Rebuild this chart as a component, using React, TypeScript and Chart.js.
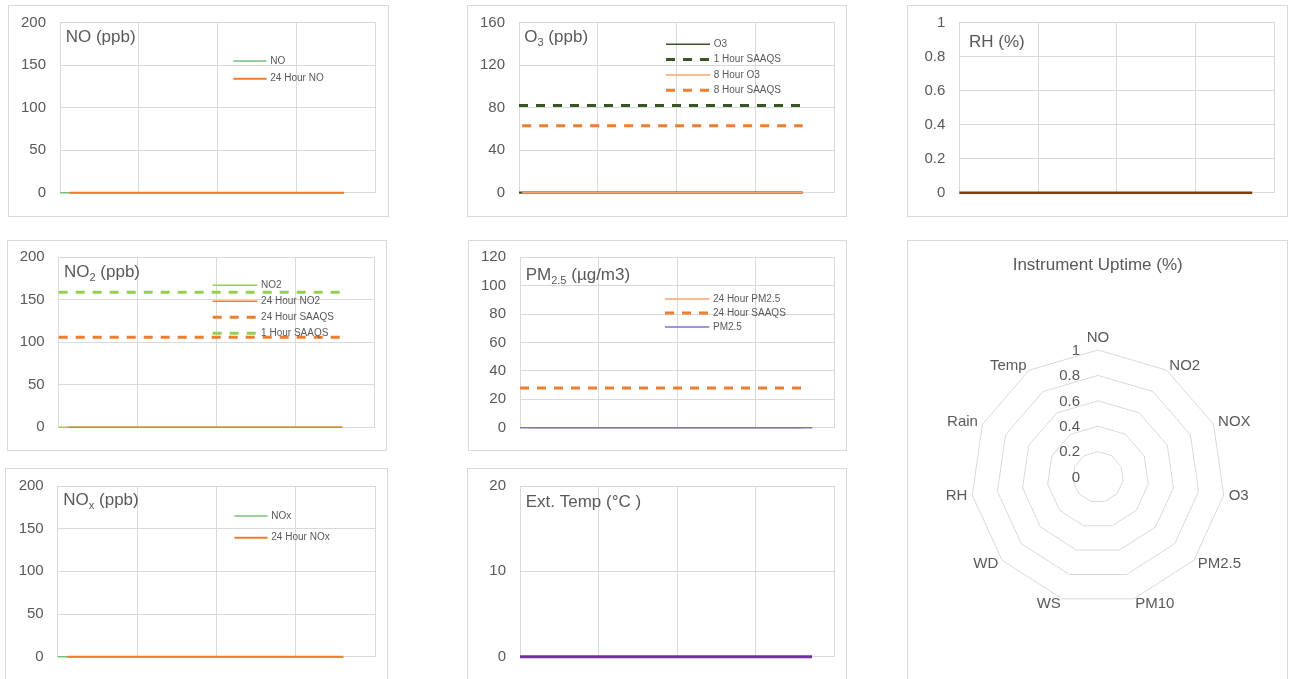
import React, { useEffect, useRef } from 'react';
import { Chart, registerables } from 'chart.js';

Chart.register(...registerables);

const FONT = '"Liberation Sans", Arial, sans-serif';
const TEXT = '#595959';
const GRID = '#d9d9d9';
Chart.defaults.font.family = FONT;

// ---------- DATA ----------
// time stamps in hours since the start of the month
const DAY_STAMPS = [
  0, 24, 48, 72, 96, 120, 144, 168,
  192, 216, 240, 264, 288, 312, 336, 360,
  384, 408, 432, 456, 480, 504, 528, 552,
  576, 600, 624, 648, 672, 696, 720, 744,
];
const EIGHT_HOUR_STAMPS = [
  8, 24, 48, 72, 96, 120, 144, 168,
  192, 216, 240, 264, 288, 312, 336, 360,
  384, 408, 432, 456, 480, 504, 528, 552,
  576, 600, 624, 648, 672, 696, 720,
];
const X_AXIS_MAX = 800;
const X_GRID_STEP = 200;

const NO_1H = [
  0, 0, 0, 0, 0, 0, 0, 0, 0, 0, 0, 0, 0, 0, 0, 0,
  0, 0, 0, 0, 0, 0, 0, 0, 0, 0, 0, 0, 0, 0, 0, null,
];
const NO_24H = [
  null, 0, 0, 0, 0, 0, 0, 0, 0, 0, 0, 0, 0, 0, 0, 0,
  0, 0, 0, 0, 0, 0, 0, 0, 0, 0, 0, 0, 0, 0, 0, null,
];
const NO2_1H = [
  0, 0, 0, 0, 0, 0, 0, 0, 0, 0, 0, 0, 0, 0, 0, 0,
  0, 0, 0, 0, 0, 0, 0, 0, 0, 0, 0, 0, 0, 0, 0, null,
];
const NO2_24H = [
  null, 0, 0, 0, 0, 0, 0, 0, 0, 0, 0, 0, 0, 0, 0, 0,
  0, 0, 0, 0, 0, 0, 0, 0, 0, 0, 0, 0, 0, 0, 0, null,
];
const NO2_24H_SAAQS = [
  106, 106, 106, 106, 106, 106, 106, 106, 106, 106, 106, 106, 106, 106, 106, 106,
  106, 106, 106, 106, 106, 106, 106, 106, 106, 106, 106, 106, 106, 106, 106, null,
];
const NO2_1H_SAAQS = [
  159, 159, 159, 159, 159, 159, 159, 159, 159, 159, 159, 159, 159, 159, 159, 159,
  159, 159, 159, 159, 159, 159, 159, 159, 159, 159, 159, 159, 159, 159, 159, null,
];
const NOX_1H = [
  0, 0, 0, 0, 0, 0, 0, 0, 0, 0, 0, 0, 0, 0, 0, 0,
  0, 0, 0, 0, 0, 0, 0, 0, 0, 0, 0, 0, 0, 0, 0, null,
];
const NOX_24H = [
  null, 0, 0, 0, 0, 0, 0, 0, 0, 0, 0, 0, 0, 0, 0, 0,
  0, 0, 0, 0, 0, 0, 0, 0, 0, 0, 0, 0, 0, 0, 0, null,
];
const O3_1H = [
  0, 0, 0, 0, 0, 0, 0, 0, 0, 0, 0, 0, 0, 0, 0, 0,
  0, 0, 0, 0, 0, 0, 0, 0, 0, 0, 0, 0, 0, 0, 0, null,
];
const O3_1H_SAAQS = [
  82, 82, 82, 82, 82, 82, 82, 82, 82, 82, 82, 82, 82, 82, 82, 82,
  82, 82, 82, 82, 82, 82, 82, 82, 82, 82, 82, 82, 82, 82, 82, null,
];
const O3_8H = [
  0, 0, 0, 0, 0, 0, 0, 0, 0, 0, 0, 0, 0, 0, 0, 0,
  0, 0, 0, 0, 0, 0, 0, 0, 0, 0, 0, 0, 0, 0, 0,
];
const O3_8H_SAAQS = [
  63, 63, 63, 63, 63, 63, 63, 63, 63, 63, 63, 63, 63, 63, 63, 63,
  63, 63, 63, 63, 63, 63, 63, 63, 63, 63, 63, 63, 63, 63, 63,
];
const PM25_24H = [
  null, 0, 0, 0, 0, 0, 0, 0, 0, 0, 0, 0, 0, 0, 0, 0,
  0, 0, 0, 0, 0, 0, 0, 0, 0, 0, 0, 0, 0, 0, 0, null,
];
const PM25_24H_SAAQS = [
  28, 28, 28, 28, 28, 28, 28, 28, 28, 28, 28, 28, 28, 28, 28, 28,
  28, 28, 28, 28, 28, 28, 28, 28, 28, 28, 28, 28, 28, 28, 28, null,
];
const PM25_1H = [
  0, 0, 0, 0, 0, 0, 0, 0, 0, 0, 0, 0, 0, 0, 0, 0,
  0, 0, 0, 0, 0, 0, 0, 0, 0, 0, 0, 0, 0, 0, 0, 0,
];
const RH_1H = [
  0, 0, 0, 0, 0, 0, 0, 0, 0, 0, 0, 0, 0, 0, 0, 0,
  0, 0, 0, 0, 0, 0, 0, 0, 0, 0, 0, 0, 0, 0, 0, 0,
];
const TEMP_1H = [
  0, 0, 0, 0, 0, 0, 0, 0, 0, 0, 0, 0, 0, 0, 0, 0,
  0, 0, 0, 0, 0, 0, 0, 0, 0, 0, 0, 0, 0, 0, 0, 0,
];

const UPTIME_PARAMS = ['NO', 'NO2', 'NOX', 'O3', 'PM2.5', 'PM10', 'WS', 'WD', 'RH', 'Rain', 'Temp'];
const UPTIME = [0, 0, 0, 0, 0, 0, 0, 0, 0, 0, 0];
const UPTIME_TITLE = 'Instrument Uptime (%)';

// ---------- STYLE / LAYOUT ----------
type Series = {
  label: string;
  stamps: number[];
  values: (number | null)[];
  color: string;
  width: number;
  legendWidth?: number;
  dash?: number[];
};
type TitlePart = { text: string; sub?: boolean };
type LinePanel = {
  box: { x: number; y: number; w: number; h: number };
  plot: { l: number; t: number; r: number; b: number };
  yMax: number;
  yStep: number;
  title: { parts: TitlePart[]; x: number; y: number };
  legend?: { x: number; y: number; dy: number; len: number };
  series: Series[];
};

const C_ORANGE = '#ed7d31';
const C_LORANGE = '#f4a46c';
const C_GREEN = '#75c274';
const C_LGREEN = '#92d050';
const C_DGREEN = '#375623';
const C_PURPLE_L = '#7d6fd8';
const C_BROWN = '#843c0c';
const C_PURPLE = '#7030a0';
const DASH = [9, 8];

const fmtTick = (v: number) => String(Math.round(v * 1000) / 1000);

const PANELS: LinePanel[] = [
  {
    box: { x: 8, y: 5, w: 381, h: 212 },
    plot: { l: 60, t: 22.7, r: 375.7, b: 192.7 },
    yMax: 200, yStep: 50,
    title: { parts: [{ text: 'NO (ppb)' }], x: 65.7, y: 41.7 },
    legend: { x: 233.3, y: 61, dy: 17.7, len: 33.3 },
    series: [
      { label: 'NO', stamps: DAY_STAMPS, values: NO_1H, color: C_GREEN, width: 1.5 },
      { label: '24 Hour NO', stamps: DAY_STAMPS, values: NO_24H, color: C_ORANGE, width: 2 },
    ],
  },
  {
    box: { x: 467, y: 5, w: 380, h: 212 },
    plot: { l: 519, t: 22.7, r: 834.3, b: 192.7 },
    yMax: 160, yStep: 40,
    title: { parts: [{ text: 'O' }, { text: '3', sub: true }, { text: ' (ppb)' }], x: 524.3, y: 41.7 },
    legend: { x: 666, y: 44.3, dy: 15.3, len: 44 },
    series: [
      { label: 'O3', stamps: DAY_STAMPS, values: O3_1H, color: C_DGREEN, width: 2.2, legendWidth: 1.5 },
      { label: '1 Hour SAAQS', stamps: DAY_STAMPS, values: O3_1H_SAAQS, color: C_DGREEN, width: 3, dash: DASH },
      { label: '8 Hour O3', stamps: EIGHT_HOUR_STAMPS, values: O3_8H, color: C_LORANGE, width: 1.5 },
      { label: '8 Hour SAAQS', stamps: EIGHT_HOUR_STAMPS, values: O3_8H_SAAQS, color: C_ORANGE, width: 3, dash: DASH },
    ],
  },
  {
    box: { x: 907, y: 5, w: 381, h: 212 },
    plot: { l: 959.3, t: 22.7, r: 1274.3, b: 192.7 },
    yMax: 1, yStep: 0.2,
    title: { parts: [{ text: 'RH (%)' }], x: 969, y: 47.3 },
    series: [
      { label: 'RH', stamps: DAY_STAMPS, values: RH_1H, color: C_BROWN, width: 2.5 },
    ],
  },
  {
    box: { x: 7, y: 240, w: 380, h: 211 },
    plot: { l: 58.7, t: 257.3, r: 374, b: 427.3 },
    yMax: 200, yStep: 50,
    title: { parts: [{ text: 'NO' }, { text: '2', sub: true }, { text: ' (ppb)' }], x: 64, y: 276.7 },
    legend: { x: 212.7, y: 285.3, dy: 16, len: 44.7 },
    series: [
      { label: 'NO2', stamps: DAY_STAMPS, values: NO2_1H, color: C_LGREEN, width: 1.5 },
      { label: '24 Hour NO2', stamps: DAY_STAMPS, values: NO2_24H, color: C_ORANGE, width: 1.5 },
      { label: '24 Hour SAAQS', stamps: DAY_STAMPS, values: NO2_24H_SAAQS, color: C_ORANGE, width: 3, dash: DASH },
      { label: '1 Hour SAAQS', stamps: DAY_STAMPS, values: NO2_1H_SAAQS, color: C_LGREEN, width: 3, dash: DASH },
    ],
  },
  {
    box: { x: 468, y: 240, w: 379, h: 211 },
    plot: { l: 520, t: 257.3, r: 834.3, b: 427.7 },
    yMax: 120, yStep: 20,
    title: { parts: [{ text: 'PM' }, { text: '2.5', sub: true }, { text: ' (µg/m3)' }], x: 525.7, y: 280 },
    legend: { x: 665, y: 299, dy: 14, len: 44.3 },
    series: [
      { label: '24 Hour PM2.5', stamps: DAY_STAMPS, values: PM25_24H, color: C_LORANGE, width: 1.5 },
      { label: '24 Hour SAAQS', stamps: DAY_STAMPS, values: PM25_24H_SAAQS, color: C_ORANGE, width: 3, dash: DASH },
      { label: 'PM2.5', stamps: DAY_STAMPS, values: PM25_1H, color: C_PURPLE_L, width: 1.5 },
    ],
  },
  {
    box: { x: 5, y: 468, w: 383, h: 220 },
    plot: { l: 57.7, t: 486, r: 375, b: 656.7 },
    yMax: 200, yStep: 50,
    title: { parts: [{ text: 'NO' }, { text: 'x', sub: true }, { text: ' (ppb)' }], x: 63.3, y: 505 },
    legend: { x: 234.3, y: 516, dy: 21.7, len: 33.3 },
    series: [
      { label: 'NOx', stamps: DAY_STAMPS, values: NOX_1H, color: C_GREEN, width: 1.5 },
      { label: '24 Hour NOx', stamps: DAY_STAMPS, values: NOX_24H, color: C_ORANGE, width: 2 },
    ],
  },
  {
    box: { x: 467, y: 468, w: 380, h: 220 },
    plot: { l: 520, t: 486, r: 834, b: 656.7 },
    yMax: 20, yStep: 10,
    title: { parts: [{ text: 'Ext. Temp (°C )' }], x: 525.7, y: 506.7 },
    series: [
      { label: 'Ext. Temp', stamps: DAY_STAMPS, values: TEMP_1H, color: C_PURPLE, width: 3 },
    ],
  },
];

const RADAR_BOX = { x: 907, y: 240, w: 381, h: 450 };
const RADAR_CENTER = { x: 1098.3, y: 477 };
const RADAR_RADIUS = 127;
const RADAR_TITLE_POS = { x: 1097.7, y: 269.5 };

// ---------- COMPONENTS ----------
function overlayPlugin(p: LinePanel) {
  return {
    id: 'overlay',
    afterDatasetsDraw(chart: any) {
      const ctx: CanvasRenderingContext2D = chart.ctx;
      const ox = p.box.x + 1;
      const oy = p.box.y + 1;
      ctx.save();
      ctx.fillStyle = TEXT;
      ctx.textAlign = 'left';
      ctx.textBaseline = 'alphabetic';
      let x = p.title.x - ox;
      const y = p.title.y - oy;
      for (const part of p.title.parts) {
        ctx.font = `${part.sub ? 11 : 17}px ${FONT}`;
        ctx.fillText(part.text, x, part.sub ? y + 4 : y);
        x += ctx.measureText(part.text).width;
      }
      if (p.legend) {
        const lg = p.legend;
        chart.data.datasets.forEach((ds: any, i: number) => {
          const s = p.series[i];
          const ly = lg.y - oy + i * lg.dy;
          const lx = lg.x - ox;
          ctx.strokeStyle = ds.borderColor;
          ctx.lineWidth = s.legendWidth ?? ds.borderWidth;
          ctx.setLineDash(ds.borderDash || []);
          ctx.beginPath();
          ctx.moveTo(lx, ly);
          ctx.lineTo(lx + lg.len, ly);
          ctx.stroke();
          ctx.setLineDash([]);
          ctx.font = `10px ${FONT}`;
          ctx.textBaseline = 'middle';
          ctx.fillStyle = TEXT;
          ctx.fillText(ds.label, lx + lg.len + 3.7, ly);
        });
      }
      ctx.restore();
    },
  };
}

function LineChartPanel({ p }: { p: LinePanel }) {
  const ref = useRef<HTMLCanvasElement>(null);
  const cw = p.box.w - 2;
  const ch = p.box.h - 2;
  useEffect(() => {
    if (!ref.current) return;
    const ox = p.box.x + 1;
    const oy = p.box.y + 1;
    const n = p.series.length;
    const chart = new Chart(ref.current, {
      type: 'line',
      data: {
        datasets: p.series.map((s, i) => ({
          label: s.label,
          data: s.stamps.map((t, k) => ({ x: t, y: s.values[k] })),
          borderColor: s.color,
          backgroundColor: s.color,
          borderWidth: s.width,
          borderDash: s.dash || [],
          pointRadius: 0,
          fill: false,
          tension: 0,
          clip: false as any,
          order: n - i,
        })),
      } as any,
      options: {
        animation: false,
        responsive: false,
        events: [],
        layout: {
          padding: {
            left: 0,
            top: p.plot.t - oy,
            right: ox + cw - p.plot.r,
            bottom: oy + ch - p.plot.b,
          },
        },
        plugins: {
          legend: { display: false },
          tooltip: { enabled: false },
          title: { display: false },
        },
        scales: {
          x: {
            type: 'linear',
            min: 0,
            max: X_AXIS_MAX,
            ticks: { display: false, stepSize: X_GRID_STEP },
            grid: { color: GRID, drawTicks: false, lineWidth: 1 },
            border: { color: GRID },
          },
          y: {
            type: 'linear',
            min: 0,
            max: p.yMax,
            ticks: {
              stepSize: p.yStep,
              color: TEXT,
              font: { family: FONT, size: 15 },
              padding: 14,
              callback: (v: any) => fmtTick(Number(v)),
            },
            grid: { color: GRID, drawTicks: false, lineWidth: 1 },
            border: { color: GRID },
            afterFit: (scale: any) => {
              scale.width = p.plot.l - ox;
              scale.paddingTop = 0;
              scale.paddingBottom = 0;
            },
          },
        },
      } as any,
      plugins: [overlayPlugin(p)],
    });
    return () => chart.destroy();
  }, [p]);
  return (
    <div
      style={{
        position: 'absolute',
        left: p.box.x,
        top: p.box.y,
        width: p.box.w,
        height: p.box.h,
        boxSizing: 'border-box',
        border: `1px solid ${GRID}`,
        background: '#fff',
      }}
    >
      <canvas ref={ref} width={cw} height={ch} style={{ display: 'block', width: cw, height: ch }} />
    </div>
  );
}

function RadarPanel() {
  const ref = useRef<HTMLCanvasElement>(null);
  const b = RADAR_BOX;
  const cw = b.w - 2;
  const ch = b.h - 2;
  useEffect(() => {
    if (!ref.current) return;
    const ox = b.x + 1;
    const oy = b.y + 1;
    const cx = RADAR_CENTER.x - ox;
    const cy = RADAR_CENTER.y - oy;
    const R = RADAR_RADIUS;
    const plugin = {
      id: 'radarText',
      afterDraw(chart: any) {
        const ctx: CanvasRenderingContext2D = chart.ctx;
        const scale = chart.scales.r;
        ctx.save();
        ctx.fillStyle = TEXT;
        // title
        ctx.font = `17px ${FONT}`;
        ctx.textAlign = 'center';
        ctx.textBaseline = 'alphabetic';
        ctx.fillText(UPTIME_TITLE, RADAR_TITLE_POS.x - ox, RADAR_TITLE_POS.y - oy);
        // tick labels
        ctx.font = `15px ${FONT}`;
        ctx.textAlign = 'right';
        ctx.textBaseline = 'middle';
        scale.ticks.forEach((t: any) => {
          const d = scale.getDistanceFromCenterForValue(t.value);
          ctx.fillText(fmtTick(t.value), scale.xCenter - 18, scale.yCenter - d + 0.7);
        });
        // point labels
        const labels: string[] = chart.data.labels;
        labels.forEach((lab, i) => {
          const ang = scale.getIndexAngle(i) - Math.PI / 2;
          const pos = scale.getPointPosition(i, scale.drawingArea + 5);
          const c = Math.cos(ang);
          const s = Math.sin(ang);
          if (Math.abs(c) < 0.05) {
            ctx.textAlign = 'center';
            ctx.textBaseline = s < 0 ? 'bottom' : 'top';
          } else {
            ctx.textAlign = c > 0 ? 'left' : 'right';
            ctx.textBaseline = 'middle';
          }
          ctx.fillText(lab, pos.x, pos.y);
        });
        ctx.restore();
      },
    };
    const chart = new Chart(ref.current, {
      type: 'radar',
      data: {
        labels: UPTIME_PARAMS,
        datasets: [
          {
            label: 'Uptime',
            data: UPTIME,
            borderColor: '#4472c4',
            backgroundColor: 'rgba(0,0,0,0)',
            borderWidth: 2,
            pointRadius: 0,
            fill: false,
          },
        ],
      },
      options: {
        animation: false,
        responsive: false,
        events: [],
        layout: {
          padding: {
            left: cx - R,
            right: cw - (cx + R),
            top: cy - R,
            bottom: ch - (cy + R),
          },
        },
        plugins: {
          legend: { display: false },
          tooltip: { enabled: false },
          title: { display: false },
        },
        scales: {
          r: {
            min: 0,
            max: 1,
            ticks: { display: false, stepSize: 0.2 },
            pointLabels: { display: false },
            angleLines: { display: false },
            grid: { color: GRID, circular: false, lineWidth: 1 },
          },
        },
      } as any,
      plugins: [plugin],
    });
    return () => chart.destroy();
  }, []);
  return (
    <div
      style={{
        position: 'absolute',
        left: b.x,
        top: b.y,
        width: b.w,
        height: b.h,
        boxSizing: 'border-box',
        border: `1px solid ${GRID}`,
        background: '#fff',
      }}
    >
      <canvas ref={ref} width={cw} height={ch} style={{ display: 'block', width: cw, height: ch }} />
    </div>
  );
}

export default function App() {
  return (
    <div
      style={{
        position: 'absolute',
        left: 0,
        top: 0,
        width: 1291,
        height: 679,
        overflow: 'hidden',
        background: '#fff',
        fontFamily: FONT,
      }}
    >
      {PANELS.map((p, i) => (
        <LineChartPanel key={i} p={p} />
      ))}
      <RadarPanel />
    </div>
  );
}
